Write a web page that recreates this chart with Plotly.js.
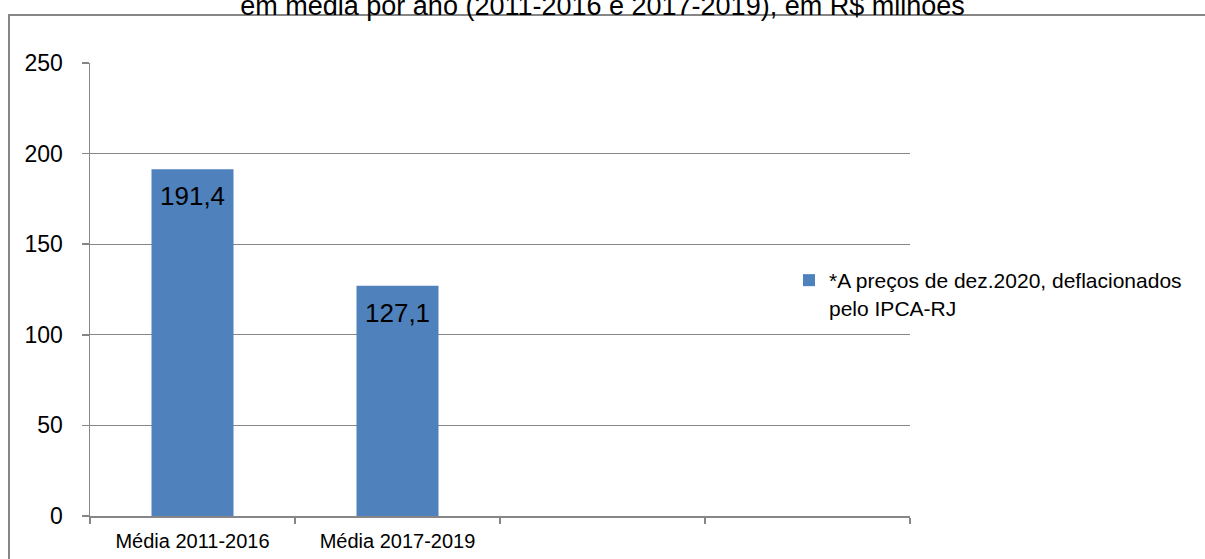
<!DOCTYPE html>
<html>
<head>
<meta charset="utf-8">
<script src="https://cdn.plot.ly/plotly-3.0.1.min.js"></script>
<style>html,body{margin:0;padding:0;background:#fff;}#chart{width:1205px;height:559px;}</style>
</head>
<body>
<div id="chart"></div>
<script>
// ---- data ----
const categories = ['Média 2011-2016', 'Média 2017-2019'];
const values = [191.4, 127.1];
const emptySlots = [' ', '  '];
const seriesName = '*A preços de dez.2020, deflacionados<br>pelo IPCA-RJ';
const titleText = 'em média por ano (2011-2016 e 2017-2019), em R$ milhões';
const yTicks = [0, 50, 100, 150, 200, 250];

const FONT = 'Liberation Sans, Arial, sans-serif';
const GRID = '#868686';
const BLUE = '#4f81bd';

const W = 1205, H = 559;
const L = 90, R = 910, T = 63, B = 516;

const trace = {
  type: 'bar',
  x: categories,
  y: values,
  name: seriesName,
  marker: {color: BLUE},
  width: 0.4,
  showlegend: true,
  hoverinfo: 'x+y'
};

const annotations = categories.map((c, i) => ({
  x: c, y: values[i], xref: 'x', yref: 'y',
  text: values[i].toFixed(1).replace('.', ','),
  showarrow: false, yanchor: 'top', yshift: -10,
  font: {family: FONT, size: 26, color: '#000'}
}));

// outer chart border (in paper coordinates)
const px = v => (v - L) / (R - L);
const py = v => (B - v) / (B - T);

const layout = {
  width: W, height: H,
  margin: {l: L, r: W - R, t: T, b: H - B, pad: 0},
  paper_bgcolor: '#fff', plot_bgcolor: '#fff',
  font: {family: FONT, color: '#000'},
  title: {
    text: titleText,
    font: {family: FONT, size: 27, color: '#000'},
    x: 0.5, xref: 'container', xanchor: 'center',
    y: 1 - 15 / H, yref: 'container', yanchor: 'bottom'
  },
  xaxis: {
    type: 'category',
    categoryorder: 'array',
    categoryarray: categories.concat(emptySlots),
    range: [-0.5, 3.5],
    tickson: 'boundaries',
    ticks: 'outside', ticklen: 6, tickcolor: GRID, tickwidth: 1.5,
    showline: true, linecolor: GRID, linewidth: 1.5,
    showgrid: false, zeroline: false,
    ticklabelstandoff: 6,
    tickfont: {family: FONT, size: 20, color: '#000'},
    fixedrange: true
  },
  yaxis: {
    range: [0, 250],
    tickvals: yTicks,
    ticks: 'outside', ticklen: 7, tickcolor: GRID, tickwidth: 1.5,
    showline: true, linecolor: GRID, linewidth: 1.5,
    showgrid: true, gridcolor: GRID, gridwidth: 1.2,
    zeroline: false,
    ticklabelstandoff: 14,
    tickfont: {family: FONT, size: 23, color: '#000'},
    fixedrange: true
  },
  showlegend: true,
  legend: {
    x: px(789), xanchor: 'left',
    y: py(260), yanchor: 'top',
    valign: 'top',
    font: {family: FONT, size: 21, color: '#000'},
    bgcolor: 'rgba(0,0,0,0)',
    tracegroupgap: 0
  },
  annotations: annotations,
  shapes: [{
    type: 'rect', xref: 'paper', yref: 'paper',
    x0: px(9), x1: px(1220), y0: py(580), y1: py(15),
    line: {color: GRID, width: 2}, fillcolor: 'rgba(0,0,0,0)', layer: 'above'
  }]
};

Plotly.newPlot('chart', [trace], layout, {displayModeBar: false, staticPlot: true});
</script>
</body>
</html>
